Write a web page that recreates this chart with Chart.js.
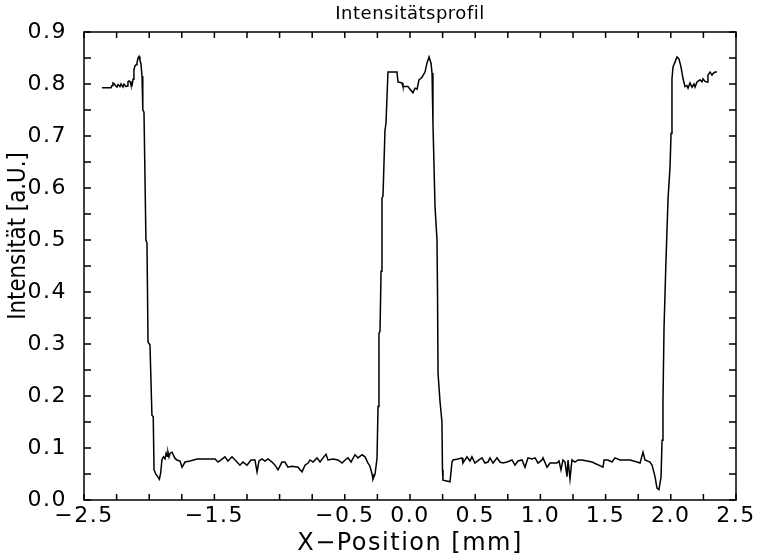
<!DOCTYPE html>
<html>
<head>
<meta charset="utf-8">
<script src="https://cdn.jsdelivr.net/npm/chart.js@4.4.1/dist/chart.umd.min.js"></script>
<style>
  html, body { margin: 0; padding: 0; background: #ffffff; }
  canvas { display: block; }
</style>
</head>
<body>
<canvas id="c" width="758" height="558"></canvas>
<script>
// ---- Data ----
const chartTitle = 'Intensitätsprofil';
const xAxisTitle = 'X\u2212Position [mm]';
const yAxisTitle = 'Intensität [a.U.]';

const xPos = [
  -2.362, -2.293, -2.285, -2.278, -2.270, -2.262, -2.247, -2.239, -2.224, -2.216,
  -2.201, -2.193, -2.178, -2.170, -2.163, -2.155, -2.147, -2.140, -2.132, -2.124,
  -2.117, -2.109, -2.101, -2.094, -2.086, -2.078, -2.071, -2.063, -2.055, -2.050,
  -2.048, -2.040, -2.025, -2.017, -2.009, -1.994, -1.979, -1.969, -1.963, -1.950,
  -1.935, -1.922, -1.912, -1.902, -1.890, -1.879, -1.870, -1.862, -1.856, -1.848,
  -1.840, -1.825, -1.802, -1.787, -1.764, -1.748, -1.725, -1.687, -1.633, -1.495,
  -1.472, -1.449, -1.419, -1.396, -1.365, -1.327, -1.304, -1.281, -1.250, -1.219,
  -1.189, -1.173, -1.158, -1.135, -1.112, -1.089, -1.058, -1.035, -1.012, -0.982,
  -0.959, -0.936, -0.905, -0.859, -0.828, -0.805, -0.782, -0.767, -0.744, -0.713,
  -0.690, -0.667, -0.644, -0.629, -0.590, -0.552, -0.521, -0.498, -0.475, -0.452,
  -0.422, -0.399, -0.368, -0.345, -0.322, -0.307, -0.291, -0.284, -0.268, -0.253,
  -0.245, -0.238, -0.230, -0.222, -0.215, -0.207, -0.192, -0.184, -0.169, -0.100,
  -0.092, -0.061, -0.054, -0.015, 0.000, 0.023, 0.038, 0.054, 0.069, 0.092,
  0.115, 0.130, 0.146, 0.161, 0.169, 0.176, 0.192, 0.207, 0.211, 0.215,
  0.230, 0.245, 0.249, 0.253, 0.307, 0.322, 0.330, 0.368, 0.399, 0.406,
  0.437, 0.460, 0.475, 0.498, 0.529, 0.552, 0.575, 0.598, 0.613, 0.637,
  0.667, 0.690, 0.713, 0.744, 0.782, 0.805, 0.828, 0.859, 0.882, 0.905,
  0.936, 0.959, 0.982, 1.012, 1.020, 1.051, 1.074, 1.127, 1.143, 1.158,
  1.173, 1.189, 1.204, 1.212, 1.227, 1.242, 1.265, 1.288, 1.319, 1.396,
  1.480, 1.488, 1.518, 1.549, 1.572, 1.610, 1.687, 1.741, 1.764, 1.787,
  1.802, 1.840, 1.856, 1.879, 1.894, 1.909, 1.925, 1.933, 1.940, 1.948,
  1.963, 1.979, 1.994, 2.002, 2.009, 2.017, 2.032, 2.048, 2.063, 2.078,
  2.094, 2.109, 2.124, 2.132, 2.147, 2.163, 2.178, 2.186, 2.201, 2.224,
  2.239, 2.247, 2.262, 2.278, 2.285, 2.301, 2.316, 2.324, 2.339, 2.354
];

const intensity = [
  0.793, 0.793, 0.797, 0.802, 0.801, 0.798, 0.794, 0.799, 0.795, 0.800,
  0.794, 0.800, 0.795, 0.796, 0.804, 0.806, 0.805, 0.798, 0.797, 0.809,
  0.827, 0.835, 0.837, 0.840, 0.850, 0.853, 0.846, 0.838, 0.815, 0.783,
  0.750, 0.746, 0.500, 0.494, 0.304, 0.298, 0.163, 0.160, 0.058, 0.050,
  0.045, 0.040, 0.052, 0.078, 0.083, 0.079, 0.090, 0.084, 0.092, 0.083,
  0.090, 0.092, 0.080, 0.077, 0.075, 0.063, 0.073, 0.075, 0.079, 0.079,
  0.073, 0.077, 0.083, 0.075, 0.083, 0.073, 0.067, 0.073, 0.067, 0.077,
  0.077, 0.054, 0.075, 0.079, 0.075, 0.079, 0.073, 0.067, 0.058, 0.073,
  0.073, 0.063, 0.065, 0.063, 0.054, 0.067, 0.071, 0.077, 0.073, 0.081,
  0.073, 0.081, 0.088, 0.077, 0.079, 0.077, 0.071, 0.077, 0.081, 0.073,
  0.087, 0.081, 0.087, 0.083, 0.071, 0.065, 0.050, 0.040, 0.050, 0.080,
  0.180, 0.320, 0.325, 0.440, 0.580, 0.585, 0.710, 0.725, 0.823, 0.823,
  0.804, 0.802, 0.795, 0.795, 0.790, 0.783, 0.792, 0.790, 0.808, 0.813,
  0.823, 0.840, 0.852, 0.840, 0.821, 0.725, 0.564, 0.500, 0.400, 0.244,
  0.190, 0.150, 0.058, 0.038, 0.035, 0.073, 0.077, 0.079, 0.081, 0.071,
  0.083, 0.075, 0.083, 0.071, 0.077, 0.081, 0.071, 0.073, 0.081, 0.071,
  0.081, 0.073, 0.071, 0.073, 0.077, 0.067, 0.075, 0.077, 0.063, 0.081,
  0.079, 0.081, 0.071, 0.077, 0.081, 0.063, 0.071, 0.071, 0.075, 0.058,
  0.077, 0.073, 0.045, 0.077, 0.040, 0.077, 0.073, 0.077, 0.077, 0.073,
  0.063, 0.077, 0.077, 0.073, 0.081, 0.077, 0.077, 0.073, 0.071, 0.092,
  0.077, 0.073, 0.067, 0.045, 0.023, 0.020, 0.044, 0.115, 0.190, 0.330,
  0.460, 0.580, 0.640, 0.705, 0.810, 0.833, 0.842, 0.852, 0.848, 0.833,
  0.810, 0.795, 0.797, 0.792, 0.802, 0.794, 0.800, 0.794, 0.804, 0.808,
  0.804, 0.810, 0.805, 0.804, 0.817, 0.823, 0.817, 0.820, 0.823, 0.823
];

// Tick labels
const xTickLabels = ['\u22122.5', '\u22121.5', '\u22120.5', '0.0', '0.5', '1.0', '1.5', '2.0', '2.5'];
const xTickValues = [-2.5, -1.5, -0.5, 0.0, 0.5, 1.0, 1.5, 2.0, 2.5];
const yTickLabels = ['0.0', '0.1', '0.2', '0.3', '0.4', '0.5', '0.6', '0.7', '0.8', '0.9'];

// ---- Build chart ----
const points = xPos.map((x, i) => ({ x: x, y: intensity[i] }));

const framePlugin = {
  id: 'frameAndTicks',
  beforeDraw(chart) {
    chart.ctx.letterSpacing = '1.5px';
  },
  afterDraw(chart) {
    const ctx = chart.ctx;
    const a = chart.chartArea;
    const xs = chart.scales.x, ys = chart.scales.y;
    ctx.save();
    ctx.letterSpacing = '0px';
    ctx.strokeStyle = '#000';
    ctx.lineWidth = 1.5;
    ctx.strokeRect(a.left, a.top, a.right - a.left, a.bottom - a.top);
    ctx.beginPath();
    // ticks along x (every 0.25), inward
    for (let k = -10; k <= 10; k++) {
      const px = xs.getPixelForValue(k * 0.25);
      ctx.moveTo(px, a.bottom); ctx.lineTo(px, a.bottom - 6);
      ctx.moveTo(px, a.top); ctx.lineTo(px, a.top + 6);
    }
    // ticks along y (every 0.05), inward
    for (let k = 0; k <= 18; k++) {
      const py = ys.getPixelForValue(k * 0.05);
      ctx.moveTo(a.left, py); ctx.lineTo(a.left + 7, py);
      ctx.moveTo(a.right, py); ctx.lineTo(a.right - 7, py);
    }
    ctx.stroke();

    // main title
    ctx.fillStyle = '#000';
    ctx.font = '18px "DejaVu Sans"';
    ctx.letterSpacing = '0.5px';
    ctx.textAlign = 'center';
    ctx.textBaseline = 'middle';
    ctx.fillText(chartTitle, (a.left + a.right) / 2, 14);

    // y-axis title (rotated, condensed)
    ctx.save();
    ctx.translate(19, 236);
    ctx.rotate(-Math.PI / 2);
    ctx.scale(0.89, 1);
    ctx.font = '24px "DejaVu Sans"';
    ctx.letterSpacing = '0px';
    ctx.textAlign = 'center';
    ctx.textBaseline = 'middle';
    ctx.fillText(yAxisTitle, 0, 0);
    ctx.restore();
    ctx.restore();
  }
};

new Chart(document.getElementById('c'), {
  type: 'scatter',
  data: {
    datasets: [{
      data: points,
      showLine: true,
      borderColor: '#000',
      borderWidth: 1.5,
      pointRadius: 0,
      tension: 0,
      fill: false
    }]
  },
  options: {
    responsive: false,
    animation: false,
    devicePixelRatio: 1,
    layout: { padding: { top: 32, right: 22, left: 0, bottom: 0 } },
    plugins: { legend: { display: false }, tooltip: { enabled: false }, title: { display: false } },
    scales: {
      x: {
        type: 'linear',
        min: -2.5, max: 2.5,
        afterFit(s) { s.height = 58; },
        afterBuildTicks(s) { s.ticks = xTickValues.map(v => ({ value: v })); },
        grid: { display: false, drawTicks: false },
        border: { display: false },
        ticks: {
          color: '#000',
          font: { family: 'DejaVu Sans', size: 22 },
          padding: 3,
          maxRotation: 0,
          autoSkip: false,
          callback: (v) => {
            const i = xTickValues.findIndex(t => Math.abs(t - v) < 1e-6);
            return i >= 0 ? xTickLabels[i] : '';
          }
        },
        title: {
          display: true,
          text: xAxisTitle,
          color: '#000',
          font: { family: 'DejaVu Sans', size: 24 },
          padding: { top: 0, bottom: 0 }
        }
      },
      y: {
        type: 'linear',
        min: 0, max: 0.9,
        afterFit(s) { s.width = 84; },
        afterBuildTicks(s) { s.ticks = yTickLabels.map((t, i) => ({ value: i / 10 })); },
        grid: { display: false, drawTicks: false },
        border: { display: false },
        ticks: {
          color: '#000',
          font: { family: 'DejaVu Sans', size: 22 },
          padding: 17,
          autoSkip: false,
          callback: (v) => yTickLabels[Math.round(v * 10)]
        }
      }
    }
  },
  plugins: [framePlugin]
});
</script>
</body>
</html>
